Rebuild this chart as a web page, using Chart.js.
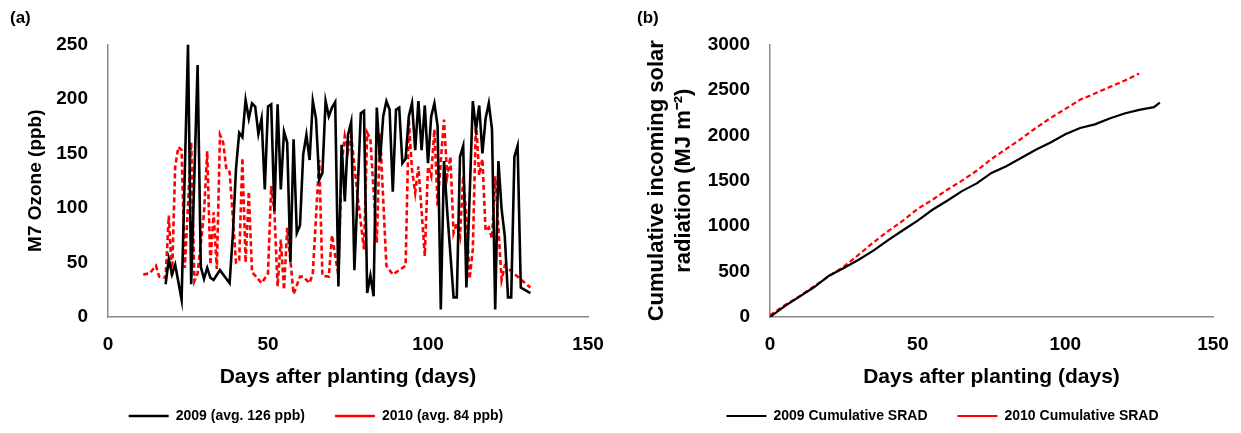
<!DOCTYPE html>
<html>
<head>
<meta charset="utf-8">
<script src="https://cdn.jsdelivr.net/npm/chart.js@4.4.1/dist/chart.umd.min.js"></script>
<style>
  html, body { margin: 0; padding: 0; background: #fff; }
  body { width: 1241px; height: 433px; position: relative; overflow: hidden; }
  canvas { position: absolute; top: 0; }
</style>
</head>
<body>
<canvas id="c1" width="620" height="433" style="left:0px"></canvas>
<canvas id="c2" width="625" height="433" style="left:620px"></canvas>
<script>
// ---- Panel (a): M7 ozone ----
const days2009 = [18,19,20,21,23,25,26,28,29,30,31,32,33,35,36,38,39,40,41,42,43,44,45,46,47,48,49,50,51,52,53,54,55,56,57,58,59,60,61,62,63,64,65,66,67,68,69,70,71,72,73,74,75,76,77,79,80,81,82,83,84,85,86,87,88,89,90,91,92,93,94,95,96,97,98,99,100,101,102,103,104,105,106,108,109,110,111,112,113,114,115,116,117,118,119,120,121,122,123,124,125,126,127,128,129,132];
const ozone2009 = [30,53,39,48,16,250,30,231,46,35,45,36,34,43,39,31,75,136,169,165,199,182,196,193,168,182,117,193,195,97,195,117,170,160,50,163,77,84,149,167,144,198,182,126,132,198,184,192,197,28,158,106,167,179,43,187,189,22,38,19,192,143,184,198,190,115,190,192,141,145,184,196,153,198,153,194,141,184,196,175,7,143,97,18,18,147,157,27,110,198,172,194,150,182,196,172,7,143,99,74,18,18,147,157,27,22];

const days2010 = [11,13,15,16,18,19,20,21,22,23,24,26,27,28,30,31,32,33,34,35,36,37,38,40,41,42,43,44,45,46,48,50,51,52,53,54,55,56,57,58,60,61,63,64,66,67,69,70,72,73,74,75,76,78,80,81,82,84,85,87,89,91,93,94,95,96,97,99,100,101,102,103,104,105,106,107,108,109,110,111,112,113,114,115,116,117,118,119,120,121,123,124,132];
const ozone2010 = [39,40,47,37,36,93,37,138,156,153,45,160,33,40,95,152,48,96,44,167,160,135,133,50,52,146,50,115,41,38,31,40,120,97,28,71,25,82,52,21,37,37,31,40,144,38,37,75,38,140,166,152,166,111,62,169,163,68,169,47,39,43,47,181,135,114,138,56,138,129,172,102,143,181,129,147,77,86,74,129,92,35,62,181,130,145,79,82,72,129,34,47,27];

const ozoneTicks = [0, 50, 100, 150, 200, 250];
const dayTicks = [0, 50, 100, 150];

// ---- Panel (b): cumulative SRAD ----
const sradDays2009 = [0,5,10,15,20,25,30,35,40,45,50,55,60,65,70,75,80,85,90,95,100,105,110,115,120,125,130,132];
const srad2009 = [0,120,225,330,455,540,630,730,845,955,1060,1180,1280,1385,1470,1585,1660,1750,1840,1920,2010,2080,2120,2185,2240,2280,2310,2360];
const sradDays2010 = [0,5,10,15,20,25,30,35,40,45,50,55,60,65,70,75,80,85,90,95,100,105,110,115,120,125];
const srad2010 = [20,130,230,340,450,555,685,820,945,1060,1190,1290,1400,1500,1610,1740,1850,1960,2080,2190,2290,2390,2460,2530,2600,2680];
const sradTicks = [0, 500, 1000, 1500, 2000, 2500, 3000];

const FONT = "'Liberation Sans', Arial, sans-serif";
Chart.defaults.font.family = FONT;
Chart.defaults.color = '#000';

function pts(xs, ys) { return xs.map((x, i) => ({ x: x, y: ys[i] })); }

// nudges the legend row horizontally after layout (legend still drawn by Chart.js)
function legendShift(dx) {
  return {
    id: 'legendShift',
    afterLayout(chart) {
      if (chart.legend) { chart.legend.left += dx; chart.legend.right += dx; }
    }
  };
}

function makeOptions(cfg) {
  return {
    responsive: false,
    animation: false,
    devicePixelRatio: 1,
    layout: { padding: { left: cfg.padLeft, right: cfg.padRight, top: 0, bottom: 0 } },
    elements: { point: { radius: 0, hoverRadius: 0 }, line: { tension: 0 } },
    plugins: {
      tooltip: { enabled: false },
      title: {
        display: true, text: cfg.panel, align: 'start', color: '#000',
        font: { size: 17, weight: 'bold', family: FONT },
        padding: { top: 8, bottom: 16 }
      },
      legend: {
        position: 'bottom',
        labels: {
          usePointStyle: true, pointStyle: 'line', pointStyleWidth: 40,
          color: '#000', padding: 30,
          font: { size: 14, weight: 'bold', family: FONT }
        }
      }
    },
    scales: {
      x: {
        type: 'linear', min: 0, max: 150,
        afterBuildTicks: (s) => { s.ticks = dayTicks.map(v => ({ value: v })); },
        afterFit: (s) => { s.height = 62; },
        grid: { display: false, drawTicks: false },
        border: { display: true, color: '#8a8a8a', width: 1.5 },
        ticks: { padding: 16, color: '#000', font: { size: 19, weight: 'bold', family: FONT },
                 callback: (v) => String(v) },
        title: {
          display: true, text: 'Days after planting (days)', color: '#000',
          font: { size: 21, weight: 'bold', family: FONT },
          padding: { top: 0, bottom: -10.6 }
        }
      },
      y: {
        type: 'linear', min: 0, max: cfg.yMax,
        afterBuildTicks: (s) => { s.ticks = cfg.yTicks.map(v => ({ value: v })); },
        afterFit: (s) => { s.width = cfg.yWidth; },
        grid: { display: false, drawTicks: false },
        border: { display: true, color: '#8a8a8a', width: 1.5 },
        ticks: { padding: 20, color: '#000', font: { size: 19, weight: 'bold', family: FONT },
                 callback: (v) => String(v) },
        title: {
          display: true, text: cfg.yTitle, color: '#000',
          font: { size: cfg.yTitleSize, weight: 'bold', family: FONT },
          padding: { top: cfg.yTitlePad, bottom: 0 }
        }
      }
    }
  };
}

new Chart(document.getElementById('c1'), {
  type: 'line',
  data: {
    datasets: [
      { label: '2009 (avg. 126 ppb)', data: pts(days2009, ozone2009), borderColor: '#000000', backgroundColor: '#000000', borderWidth: 2.6 },
      { label: '2010 (avg. 84 ppb)', data: pts(days2010, ozone2010), borderColor: '#ff0000', backgroundColor: '#ff0000', borderWidth: 2.6, borderDash: [5, 3] }
    ]
  },
  options: makeOptions({ panel: '(a)', padLeft: 10, padRight: 32, yMax: 250, yTicks: ozoneTicks, yWidth: 98,
    yTitle: 'M7 Ozone (ppb)', yTitleSize: 19, yTitlePad: 14.6 }),
  plugins: [legendShift(17)]
});

new Chart(document.getElementById('c2'), {
  type: 'line',
  data: {
    datasets: [
      { label: '2009 Cumulative SRAD', data: pts(sradDays2009, srad2009), borderColor: '#000000', backgroundColor: '#000000', borderWidth: 2.2 },
      { label: '2010 Cumulative SRAD', data: pts(sradDays2010, srad2010), borderColor: '#ff0000', backgroundColor: '#ff0000', borderWidth: 2.2, borderDash: [5, 3] }
    ]
  },
  options: makeOptions({ panel: '(b)', padLeft: 17, padRight: 32, yMax: 3000, yTicks: sradTicks, yWidth: 133,
    yTitle: ['Cumulative incoming solar', 'radiation (MJ m\u207B\u00B2)'], yTitleSize: 22, yTitlePad: 7 }),
  plugins: [legendShift(17.5)]
});
</script>
</body>
</html>
